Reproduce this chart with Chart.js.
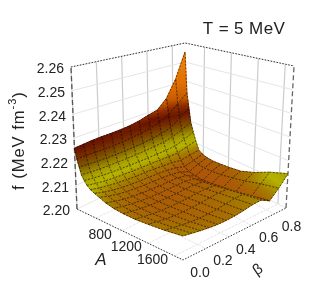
<!DOCTYPE html>
<html>
<head>
<meta charset="utf-8">
<style>
  html, body { margin: 0; padding: 0; background: #fff; }
  canvas { display: block; }
</style>
<script src="https://cdn.jsdelivr.net/npm/chart.js@4/dist/chart.umd.min.js"></script>
</head>
<body>
<canvas id="myChart" width="316" height="306"></canvas>
<script>
// values
const massValues = [110, 140, 170, 200, 240, 280, 330, 390, 460, 560, 680, 820, 1000, 1200, 1450, 1730];
const betaValues = [0, 0.075, 0.15, 0.225, 0.3, 0.375, 0.45, 0.525, 0.6, 0.675, 0.75, 0.825, 0.9];
const surfaceRows = [
  [2.2257, 2.2260, 2.2263, 2.2264, 2.2264, 2.2265, 2.2268, 2.2275, 2.2287, 2.2297, 2.2340, 2.2425, 2.2553],
  [2.2215, 2.2215, 2.2213, 2.2212, 2.2212, 2.2213, 2.2216, 2.2220, 2.2228, 2.2238, 2.2262, 2.2300, 2.2340],
  [2.2185, 2.2180, 2.2178, 2.2176, 2.2175, 2.2175, 2.2176, 2.2178, 2.2182, 2.2188, 2.2200, 2.2230, 2.2265],
  [2.2155, 2.2150, 2.2148, 2.2146, 2.2145, 2.2144, 2.2144, 2.2145, 2.2147, 2.2150, 2.2158, 2.2175, 2.2195],
  [2.2135, 2.2130, 2.2125, 2.2122, 2.2120, 2.2118, 2.2117, 2.2116, 2.2116, 2.2116, 2.2118, 2.2132, 2.2150],
  [2.2120, 2.2112, 2.2106, 2.2102, 2.2099, 2.2097, 2.2095, 2.2094, 2.2092, 2.2090, 2.2088, 2.2100, 2.2110],
  [2.2108, 2.2099, 2.2092, 2.2087, 2.2083, 2.2080, 2.2078, 2.2076, 2.2072, 2.2068, 2.2060, 2.2065, 2.2070],
  [2.2100, 2.2088, 2.2080, 2.2074, 2.2070, 2.2067, 2.2065, 2.2063, 2.2059, 2.2052, 2.2038, 2.2048, 2.2058],
  [2.2092, 2.2080, 2.2071, 2.2065, 2.2061, 2.2058, 2.2056, 2.2054, 2.2050, 2.2042, 2.2024, 2.2040, 2.2052],
  [2.2081, 2.2071, 2.2063, 2.2058, 2.2054, 2.2052, 2.2050, 2.2050, 2.2048, 2.2040, 2.2018, 2.2036, 2.2049],
  [2.2073, 2.2065, 2.2059, 2.2054, 2.2051, 2.2050, 2.2049, 2.2050, 2.2049, 2.2042, 2.2015, 2.2038, 2.2052],
  [2.2069, 2.2062, 2.2057, 2.2053, 2.2051, 2.2050, 2.2050, 2.2052, 2.2052, 2.2047, 2.2020, 2.2042, 2.2056],
  [2.2068, 2.2062, 2.2057, 2.2054, 2.2053, 2.2053, 2.2054, 2.2057, 2.2058, 2.2054, 2.2028, 2.2052, 2.2064],
  [2.2071, 2.2065, 2.2060, 2.2057, 2.2056, 2.2057, 2.2059, 2.2063, 2.2066, 2.2064, 2.2036, 2.2065, 2.2085],
  [2.2076, 2.2071, 2.2066, 2.2062, 2.2060, 2.2061, 2.2063, 2.2068, 2.2074, 2.2074, 2.2050, 2.2085, 2.2118],
  [2.2085, 2.2080, 2.2075, 2.2071, 2.2068, 2.2068, 2.2070, 2.2075, 2.2082, 2.2084, 2.2065, 2.2100, 2.2145]
];
const fTicks = [2.20, 2.21, 2.22, 2.23, 2.24, 2.25, 2.26];
const massTicks = [800, 1200, 1600];
const massGridTicks = [400, 800, 1200, 1600];
const betaTicks = [0, 0.2, 0.4, 0.6, 0.8];
const creaseBeta = 0.75;

// colour ramp of the surface
const rampValues = [2.2, 2.205, 2.208, 2.211, 2.214, 2.218, 2.222, 2.226, 2.229, 2.232, 2.24, 2.26];
const rampColors = [
  [176, 80, 10], [170, 92, 6], [164, 124, 0], [182, 180, 0], [170, 160, 0], [128, 92, 0],
  [120, 44, 0], [100, 14, 0], [150, 50, 0], [196, 90, 0], [226, 112, 0], [244, 140, 16]
];

// view box: corners of the plot in page space, order is
// small A/beta 0, big A/beta 0, big A/big beta, small A/big beta
const floorCorners = [[77, 209], [183, 260], [286, 208], [185, 157]];
const roofCorners = [[71, 67], [183, 90], [294, 66], [185, 43]];
const massMin = 110, massMax = 1730, betaMax = 0.9, fMin = 2.2, fMax = 2.26;

let canvas = document.getElementById("myChart");

function project(mass, beta, f) {
  let u = (mass - massMin) / (massMax - massMin);
  let v = beta / betaMax;
  let w = (f - fMin) / (fMax - fMin);
  function corner(list, k) {
    return (list[0][k] * (1 - u) + list[1][k] * u) * (1 - v) + (list[3][k] * (1 - u) + list[2][k] * u) * v;
  }
  return {
    x: corner(floorCorners, 0) * (1 - w) + corner(roofCorners, 0) * w,
    y: corner(floorCorners, 1) * (1 - w) + corner(roofCorners, 1) * w
  };
}

function colorFor(f) {
  let i = 0;
  while (i < rampValues.length - 2 && f > rampValues[i + 1]) i++;
  let t = Math.min(1, Math.max(0, (f - rampValues[i]) / (rampValues[i + 1] - rampValues[i])));
  let c = rampColors[i].map((val, k) => Math.round(val + (rampColors[i + 1][k] - val) * t));
  return "rgb(" + c[0] + "," + c[1] + "," + c[2] + ")";
}

// soft shading inside one cell, along whichever side changes the most
function cellPaint(j, i, points) {
  let z = [surfaceRows[j][i], surfaceRows[j + 1][i], surfaceRows[j + 1][i + 1], surfaceRows[j][i + 1]];
  let alongMass = Math.abs(z[0] + z[3] - z[1] - z[2]);
  let alongBeta = Math.abs(z[0] + z[1] - z[2] - z[3]);
  let a, b, zA, zB;
  if (alongMass >= alongBeta) {
    a = [points[0], points[3]]; b = [points[1], points[2]];
    zA = (z[0] + z[3]) / 2; zB = (z[1] + z[2]) / 2;
  } else {
    a = [points[0], points[1]]; b = [points[3], points[2]];
    zA = (z[0] + z[1]) / 2; zB = (z[3] + z[2]) / 2;
  }
  let grad = canvas.getContext("2d").createLinearGradient(
    (a[0].x + a[1].x) / 2, (a[0].y + a[1].y) / 2,
    (b[0].x + b[1].x) / 2, (b[0].y + b[1].y) / 2
  );
  grad.addColorStop(0, colorFor(zA));
  grad.addColorStop(0.5, colorFor((zA + zB) / 2));
  grad.addColorStop(1, colorFor(zB));
  return grad;
}

function lineSet(points, color, width, dash, order) {
  return {
    data: points,
    showLine: true,
    fill: false,
    borderColor: color,
    borderWidth: width,
    borderDash: dash,
    pointRadius: 0,
    tension: 0,
    order: order
  };
}

let datasets = [];

// walls and floor, all behind the surface
const wallColor = "#e2e2e2";
fTicks.forEach(f => {
  datasets.push(lineSet([project(massMin, 0, f), project(massMin, betaMax, f), project(massMax, betaMax, f)], wallColor, 0.9, [], 9000));
});
betaTicks.forEach(b => {
  datasets.push(lineSet([project(massMin, b, fMin), project(massMin, b, fMax)], "#cccccc", 1.2, [], 9000));
  datasets.push(lineSet([project(massMin, b, fMin), project(massMax, b, fMin)], wallColor, 0.9, [3, 1], 9000));
});
massGridTicks.forEach(m => {
  datasets.push(lineSet([project(m, betaMax, fMin), project(m, betaMax, fMax)], "#cccccc", 1.2, [], 9000));
  datasets.push(lineSet([project(m, 0, fMin), project(m, betaMax, fMin)], wallColor, 0.9, [3, 1], 9000));
});

// box edges
const edgeDash = [1.5, 1.5];
datasets.push(lineSet([project(massMin, 0, fMax), project(massMin, betaMax, fMax), project(massMax, betaMax, fMax)], "#333", 1, edgeDash, 8900));
datasets.push(lineSet([project(massMin, 0, fMin), project(massMax, 0, fMin), project(massMax, betaMax, fMin)], "#333", 1, edgeDash, 8900));
datasets.push(lineSet([project(massMin, 0, fMin), project(massMin, 0, fMax)], "#555", 1.3, [5, 3], 8900));
datasets.push(lineSet([project(massMax, betaMax, fMin), project(massMax, betaMax, fMax)], "#666", 1.3, [5, 3], 8900));

// surface cells, painted from the far corner to the near one
for (let j = 0; j < massValues.length - 1; j++) {
  for (let i = betaValues.length - 2; i >= 0; i--) {
    let corners = [
      [j, i], [j + 1, i], [j + 1, i + 1], [j, i + 1], [j, i]
    ];
    let points = corners.map(c => project(massValues[c[0]], betaValues[c[1]], surfaceRows[c[0]][c[1]]));
    let paint = cellPaint(j, i, points);
    let order = (massValues.length - j) * 20 + i;
    let cell = lineSet(points, paint, 1, [], order + 0.5);
    cell.fill = "shape";
    cell.backgroundColor = paint;
    datasets.push(cell);
    datasets.push(lineSet(points, "rgba(0,0,0,0.8)", 0.7, [2, 1.5], order));
    if (betaValues[i] === creaseBeta) {
      datasets.push(lineSet([points[0], points[1]], "rgba(20,10,0,0.85)", 1, [], order - 0.25));
    }
  }
}

const textPlugin = {
  id: "chartText",
  afterDraw(chart) {
    let ctx = chart.ctx;
    ctx.save();
    ctx.fillStyle = "#222";
    ctx.textBaseline = "middle";

    ctx.font = "14px 'Liberation Sans'";
    ctx.textAlign = "right";
    fTicks.forEach(f => {
      let p = project(massMin, 0, f);
      ctx.fillText(f.toFixed(2), p.x - 7, p.y + 2.5);
    });
    ctx.textAlign = "center";
    massTicks.forEach(m => {
      let p = project(m, 0, fMin);
      ctx.fillText(String(m), p.x - 22, p.y + 4);
    });
    betaTicks.forEach(b => {
      let p = project(massMax, b, fMin);
      ctx.fillText(b.toFixed(1), p.x + 17, p.y + 13);
    });

    ctx.font = "italic 17px 'Liberation Sans'";
    ctx.fillText("A", 101, 260);

    ctx.save();
    ctx.translate(258, 270);
    ctx.rotate(-0.6);
    ctx.font = "15px 'Liberation Sans'";
    ctx.fillText("β", 0, 0);
    ctx.restore();

    ctx.font = "17px 'Liberation Sans'";
    ctx.letterSpacing = "0.4px";
    ctx.fillText("T = 5 MeV", 244, 29);

    // y title goes upwards, piece by piece for the superscript
    ctx.save();
    ctx.translate(19, 190);
    ctx.rotate(-Math.PI / 2);
    ctx.textAlign = "left";
    ctx.font = "16.5px 'Liberation Sans'";
    ctx.letterSpacing = "1px";
    let titleStart = "f (MeV fm";
    ctx.fillText(titleStart, 0, 0);
    let pos = ctx.measureText(titleStart).width;
    ctx.font = "11px 'Liberation Sans'";
    ctx.fillText("-3", pos, -6);
    pos += ctx.measureText("-3").width;
    ctx.font = "16.5px 'Liberation Sans'";
    ctx.fillText(")", pos, 0);
    ctx.restore();

    ctx.restore();
  }
};

new Chart(canvas, {
  type: "scatter",
  data: { datasets: datasets },
  options: {
    responsive: false,
    animation: false,
    layout: { padding: 0 },
    plugins: { legend: { display: false }, tooltip: { enabled: false } },
    scales: {
      x: { type: "linear", display: false, min: 0, max: 316 },
      y: { type: "linear", display: false, min: 0, max: 306, reverse: true }
    }
  },
  plugins: [textPlugin]
});
</script>
</body>
</html>
